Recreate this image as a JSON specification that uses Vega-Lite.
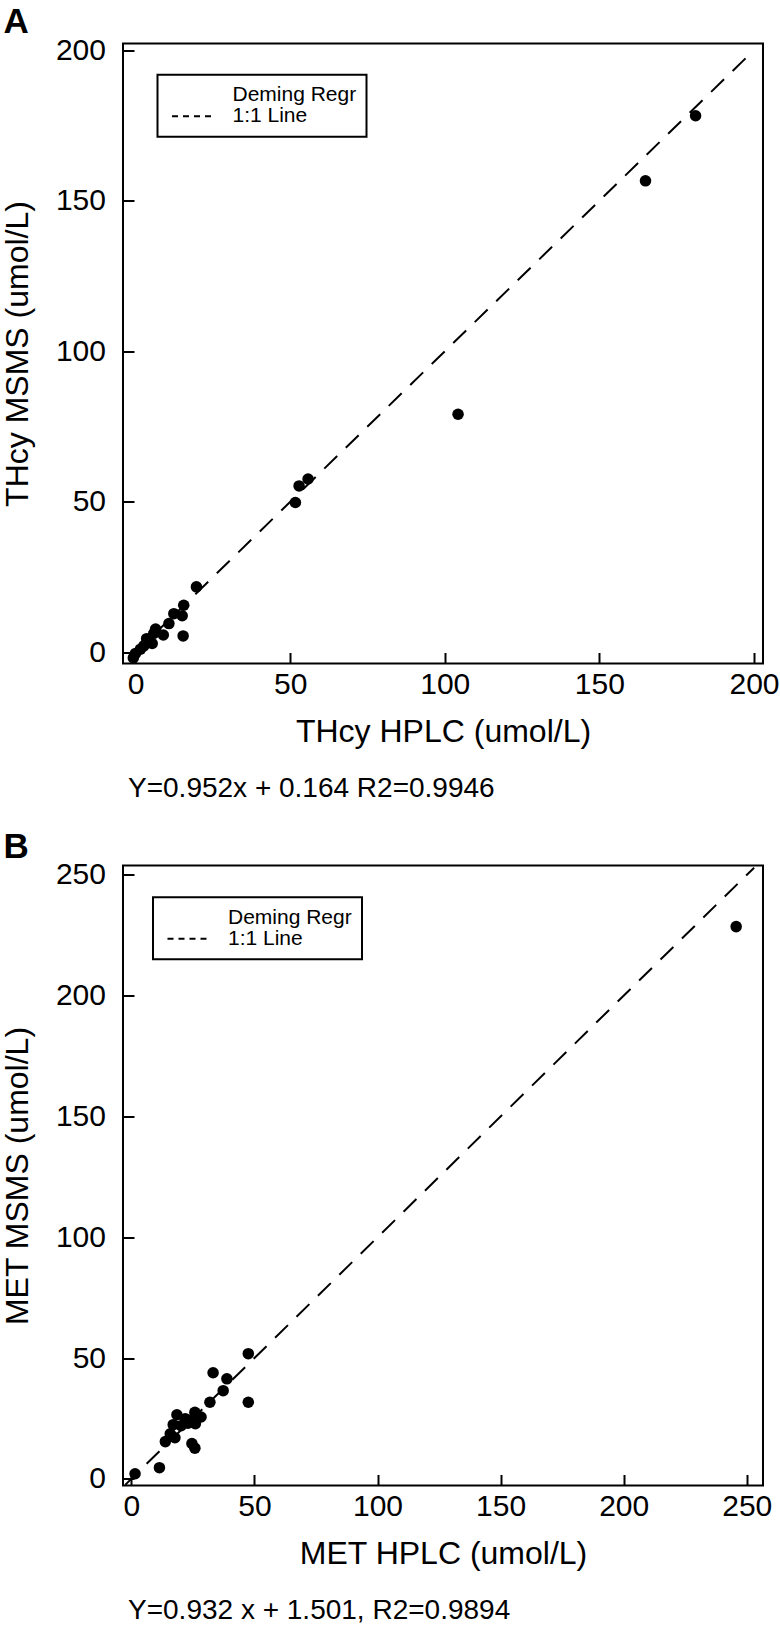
{
  "$schema": "https://vega.github.io/schema/vega-lite/v6.json",
  "background": "white",
  "padding": {"left": 0, "top": 4.5, "right": 0, "bottom": 0},
  "datasets": {
    "thcy": [
      {"hplc": 181.1, "msms": 178.2}, {"hplc": 164.9, "msms": 156.6}, {"hplc": 104.3, "msms": 79.1},
      {"hplc": 55.8, "msms": 57.6}, {"hplc": 52.9, "msms": 55.3}, {"hplc": 51.7, "msms": 49.8},
      {"hplc": 19.7, "msms": 21.8}, {"hplc": 15.6, "msms": 15.7}, {"hplc": 12.4, "msms": 12.9},
      {"hplc": 15.1, "msms": 12.2}, {"hplc": 10.8, "msms": 9.6}, {"hplc": 6.5, "msms": 7.8},
      {"hplc": 9.0, "msms": 5.8}, {"hplc": 15.4, "msms": 5.5}, {"hplc": 5.9, "msms": 6.3},
      {"hplc": 3.6, "msms": 4.6}, {"hplc": 5.4, "msms": 3.0}, {"hplc": 2.7, "msms": 2.2},
      {"hplc": 1.6, "msms": 1.1}, {"hplc": 0.0, "msms": -0.3}, {"hplc": -0.7, "msms": -1.8}
    ],
    "thcyLine": [
      {"series": "1:1 Line", "hplc": -1.5, "msms": -1.5},
      {"series": "1:1 Line", "hplc": 198.5, "msms": 198.5}
    ],
    "met": [
      {"hplc": 245.7, "msms": 228.6}, {"hplc": 47.5, "msms": 51.8}, {"hplc": 33.2, "msms": 43.9},
      {"hplc": 38.8, "msms": 41.4}, {"hplc": 37.3, "msms": 36.5}, {"hplc": 31.9, "msms": 31.7},
      {"hplc": 47.5, "msms": 31.7}, {"hplc": 18.5, "msms": 26.5}, {"hplc": 25.8, "msms": 27.5},
      {"hplc": 28.3, "msms": 25.6}, {"hplc": 21.9, "msms": 24.9}, {"hplc": 24.0, "msms": 24.0},
      {"hplc": 17.0, "msms": 22.4}, {"hplc": 20.2, "msms": 22.0}, {"hplc": 26.0, "msms": 22.8},
      {"hplc": 23.0, "msms": 23.0}, {"hplc": 15.8, "msms": 18.6}, {"hplc": 17.7, "msms": 17.0},
      {"hplc": 13.8, "msms": 15.4}, {"hplc": 24.6, "msms": 14.6}, {"hplc": 25.8, "msms": 12.7},
      {"hplc": 11.4, "msms": 4.6}, {"hplc": 1.5, "msms": 2.1}
    ],
    "metLine": [
      {"series": "1:1 Line", "hplc": -2.5, "msms": -2.5},
      {"series": "1:1 Line", "hplc": 253, "msms": 253}
    ]
  },
  "spacing": 26,
  "vconcat": [
    {
      "title": {"text": "A", "anchor": "start", "frame": "bounds", "fontSize": 35, "fontWeight": "bold", "baseline": "alphabetic", "offset": -34, "dx": 3},
      "vconcat": [
        {
          "width": 640,
          "height": 620,
          "title": {"text": "Y=0.952x + 0.164 R2=0.9946", "orient": "bottom", "anchor": "start", "frame": "group", "fontSize": 28, "fontWeight": "normal", "dx": 5, "offset": 27, "baseline": "top"},
          "layer": [
            {
              "data": {"name": "thcyLine"},
              "mark": {"type": "line", "strokeDash": [18, 12], "strokeWidth": 2},
              "encoding": {
                "x": {"field": "hplc", "type": "quantitative", "scale": {"domain": [-4.04, 202.9], "nice": false, "zero": false}, "axis": {"title": "THcy HPLC (umol/L)", "values": [0, 50, 100, 150, 200]}},
                "y": {"field": "msms", "type": "quantitative", "scale": {"domain": [-3.65, 202.2], "nice": false, "zero": false}, "axis": {"title": "THcy MSMS (umol/L)", "values": [0, 50, 100, 150, 200]}},
                "color": {"field": "series", "type": "nominal", "scale": {"domain": ["Deming Regr", "1:1 Line"], "range": ["transparent", "black"]}, "legend": {"title": null, "orient": "none", "legendX": 34.5, "legendY": 31.3, "encode": {"legend": {"update": {"strokeWidth": {"value": 2}}}}}}
              }
            },
            {
              "data": {"name": "thcy"},
              "mark": {"type": "circle", "size": 133, "color": "black", "opacity": 1},
              "encoding": {
                "x": {"field": "hplc", "type": "quantitative", "scale": {"domain": [-4.04, 202.9], "nice": false, "zero": false}},
                "y": {"field": "msms", "type": "quantitative", "scale": {"domain": [-3.65, 202.2], "nice": false, "zero": false}}
              }
            }
          ]
        }
      ]
    },
    {
      "title": {"text": "B", "anchor": "start", "frame": "bounds", "fontSize": 35, "fontWeight": "bold", "baseline": "alphabetic", "offset": -34, "dx": 3},
      "vconcat": [
        {
          "width": 640,
          "height": 620,
          "title": {"text": "Y=0.932 x + 1.501, R2=0.9894", "orient": "bottom", "anchor": "start", "frame": "group", "fontSize": 28, "fontWeight": "normal", "dx": 5, "offset": 27, "baseline": "top"},
          "layer": [
            {
              "data": {"name": "metLine"},
              "mark": {"type": "line", "strokeDash": [18, 12], "strokeWidth": 2},
              "encoding": {
                "x": {"field": "hplc", "type": "quantitative", "scale": {"domain": [-3.4, 256.6], "nice": false, "zero": false}, "axis": {"title": "MET HPLC (umol/L)", "values": [0, 50, 100, 150, 200, 250]}},
                "y": {"field": "msms", "type": "quantitative", "scale": {"domain": [-2.77, 253.9], "nice": false, "zero": false}, "axis": {"title": "MET MSMS (umol/L)", "values": [0, 50, 100, 150, 200, 250]}},
                "color": {"field": "series", "type": "nominal", "scale": {"domain": ["Deming Regr", "1:1 Line"], "range": ["transparent", "black"]}, "legend": {"title": null, "orient": "none", "legendX": 30, "legendY": 31.7, "encode": {"legend": {"update": {"strokeWidth": {"value": 2}}}}}}
              }
            },
            {
              "data": {"name": "met"},
              "mark": {"type": "circle", "size": 133, "color": "black", "opacity": 1},
              "encoding": {
                "x": {"field": "hplc", "type": "quantitative", "scale": {"domain": [-3.4, 256.6], "nice": false, "zero": false}},
                "y": {"field": "msms", "type": "quantitative", "scale": {"domain": [-2.77, 253.9], "nice": false, "zero": false}}
              }
            }
          ]
        }
      ]
    }
  ],
  "resolve": {"scale": {"color": "independent"}},
  "config": {
    "font": "Liberation Sans",
    "view": {"stroke": "black", "strokeWidth": 2},
    "axis": {
      "domain": false, "grid": false,
      "tickSize": -11, "tickWidth": 2, "tickColor": "black",
      "labelFont": "Liberation Sans", "labelFontSize": 30, "labelColor": "black",
      "labelFlush": false, "labelOverlap": false,
      "titleFont": "Liberation Sans", "titleFontSize": 32, "titleFontWeight": "normal", "titleColor": "black"
    },
    "axisX": {"labelPadding": 17, "titlePadding": 17},
    "axisY": {"labelPadding": 28.5, "titlePadding": 21},
    "legend": {
      "strokeColor": "black", "fillColor": "white", "padding": 10,
      "symbolType": "M-1.2,0H6.6", "symbolSize": 100, "symbolDash": [6, 5], "symbolStrokeWidth": 2,
      "labelFont": "Liberation Sans", "labelFontSize": 21, "labelColor": "black",
      "labelOffset": 44, "rowPadding": -3
    },
    "title": {"font": "Liberation Sans", "color": "black"}
  }
}
